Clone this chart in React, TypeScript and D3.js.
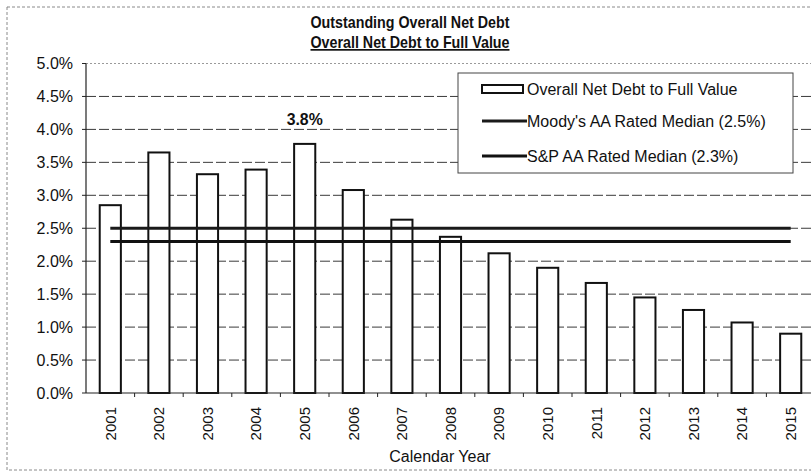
import React from "react";
import * as d3 from "d3";

const years = ["2001","2002","2003","2004","2005","2006","2007","2008","2009","2010","2011","2012","2013","2014","2015"];
const debtToValue = [2.85, 3.65, 3.32, 3.39, 3.78, 3.08, 2.63, 2.37, 2.12, 1.9, 1.67, 1.45, 1.26, 1.07, 0.9];
const moodysMedian = 2.5;
const spMedian = 2.3;
const yTicks = [0, 0.5, 1, 1.5, 2, 2.5, 3, 3.5, 4, 4.5, 5];
const titleLines = ["Outstanding Overall Net Debt", "Overall Net Debt to Full Value"];
const legendLabels = ["Overall Net Debt to Full Value", "Moody's AA Rated Median (2.5%)", "S&P AA Rated Median (2.3%)"];
const highlightLabel = { year: "2005", text: "3.8%" };
const xTitle = "Calendar Year";

const W = 811, H = 474;
const FONT = "'Liberation Sans', Arial, sans-serif";

export default function App() {
  const left = 86, right = 815, top = 63.5, bottom = 393;
  const x = d3.scaleBand<string>().domain(years).range([left, right]).paddingInner(0.565).paddingOuter(0.2825);
  const y = d3.scaleLinear().domain([0, 5]).range([bottom, top]);
  const step = x.step();
  const bw = x.bandwidth();
  const cx = (yr: string) => (x(yr) as number) + bw / 2;
  const lineX1 = cx(years[0]);
  const lineX2 = cx(years[years.length - 1]);
  const gridColor = "#3a3a3a";

  return (
    <svg width={W} height={H} style={{ position: "absolute", left: 0, top: 0, background: "#fff" }} fontFamily={FONT}>
      <rect x={0} y={0} width={W} height={H} fill="#fff" />
      {/* outer frame */}
      <rect x={7} y={7} width={W + 20} height={463} fill="none" stroke="#8a8a8a" strokeWidth={1} strokeDasharray="3,2" />
      {/* title */}
      <text x={410} y={28} textAnchor="middle" fontWeight="bold" fontSize={17} fill="#111"
        textLength={199} lengthAdjust="spacingAndGlyphs">{titleLines[0]}</text>
      <text x={410} y={48} textAnchor="middle" fontWeight="bold" fontSize={17} fill="#111"
        textLength={199} lengthAdjust="spacingAndGlyphs" textDecoration="underline">{titleLines[1]}</text>

      {/* gridlines */}
      {yTicks.filter(t => t > 0).map(t => (
        <line key={"g" + t} x1={left} x2={W} y1={y(t)} y2={y(t)}
          stroke={t === 5 ? "#9a9a9a" : gridColor} strokeWidth={1}
          strokeDasharray={t === 5 ? "2,2" : "10,3"} />
      ))}
      {/* y axis */}
      <line x1={left} x2={left} y1={top} y2={bottom} stroke="#222" strokeWidth={1.2} />
      {yTicks.map(t => (
        <g key={"t" + t}>
          <line x1={left - 4} x2={left} y1={y(t)} y2={y(t)} stroke="#222" />
          <text x={73} y={y(t)} dy="0.35em" textAnchor="end" fontSize={16} fill="#111">{t.toFixed(1) + "%"}</text>
        </g>
      ))}
      {/* bars */}
      {years.map((yr, i) => (
        <rect key={yr} x={x(yr)} y={y(debtToValue[i])} width={bw} height={bottom - y(debtToValue[i])}
          fill="#fff" stroke="#111" strokeWidth={2} />
      ))}
      {/* x axis */}
      <line x1={left} x2={W} y1={bottom} y2={bottom} stroke="#222" strokeWidth={1.2} />
      {years.map((yr, i) => (
        <line key={"xt" + yr} x1={left + step * (i + 1)} x2={left + step * (i + 1)} y1={bottom} y2={bottom + 4} stroke="#222" />
      ))}
      {years.map(yr => (
        <text key={"xl" + yr} transform={`translate(${cx(yr)},407) rotate(-90)`} textAnchor="end" dy="0.35em" fontSize={15} fill="#111">{yr}</text>
      ))}
      <text x={440} y={462} textAnchor="middle" fontSize={16} fill="#111">{xTitle}</text>

      {/* median lines */}
      <line x1={lineX1} x2={lineX2} y1={y(moodysMedian)} y2={y(moodysMedian)} stroke="#1a1a1a" strokeWidth={3} />
      <line x1={lineX1} x2={lineX2} y1={y(spMedian)} y2={y(spMedian)} stroke="#111" strokeWidth={3} />

      {/* highlight label */}
      <text x={cx(highlightLabel.year)} y={125} textAnchor="middle" fontWeight="bold" fontSize={16} fill="#111"
        textLength={36} lengthAdjust="spacingAndGlyphs">{highlightLabel.text}</text>

      {/* legend */}
      <rect x={458} y={73} width={335} height={100} fill="#fff" stroke="#444" strokeWidth={1} />
      <rect x={482} y={85} width={41} height={8} fill="#fff" stroke="#111" strokeWidth={2} />
      <text x={527} y={89} dy="0.35em" fontSize={16} fill="#111">{legendLabels[0]}</text>
      <line x1={482} x2={527} y1={121} y2={121} stroke="#1a1a1a" strokeWidth={3} />
      <text x={527} y={121} dy="0.35em" fontSize={16} fill="#111">{legendLabels[1]}</text>
      <line x1={482} x2={527} y1={156} y2={156} stroke="#111" strokeWidth={3} />
      <text x={527} y={156} dy="0.35em" fontSize={16} fill="#111">{legendLabels[2]}</text>
    </svg>
  );
}
